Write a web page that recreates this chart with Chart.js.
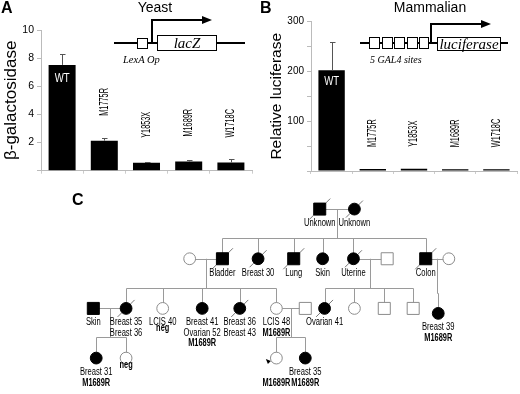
<!DOCTYPE html>
<html lang="en">
<head>
<meta charset="UTF-8">
<title>BRCA1 transactivation and pedigree</title>
<script src="https://cdn.jsdelivr.net/npm/chart.js@4.4.0/dist/chart.umd.min.js"></script>
<style>
  body { margin: 0; background: #fff; }
  #fig { position: relative; width: 520px; height: 394px; overflow: hidden; font-family: Arial, "Liberation Sans", sans-serif; }
  canvas { position: absolute; }
  .t { position: absolute; white-space: nowrap; line-height: 1; color: #000; }
  .letter { font-weight: bold; font-size: 16px; }
  .ttl { font-size: 14px; transform: translateX(-50%); }
  .it { font-family: "Liberation Serif", "Times New Roman", serif; font-style: italic; }
  .ln { position: absolute; background: #000; }
  .box { position: absolute; background: #fff; border: 1px solid #000; box-sizing: border-box;
         display: flex; align-items: center; justify-content: center; }
  .head { position: absolute; width: 0; height: 0; border-top: 4px solid transparent;
          border-bottom: 4px solid transparent; border-left: 10px solid #000; }
</style>
</head>
<body>
<div id="fig">
  <canvas id="chartA" width="260" height="180" style="left:0;top:0"></canvas>
  <canvas id="chartB" width="260" height="180" style="left:260px;top:0"></canvas>
  <canvas id="chartC" width="520" height="214" style="left:0;top:180px"></canvas>

  <div class="t letter" style="left:1px;top:0">A</div>
  <div class="t letter" style="left:260px;top:0">B</div>
  <div class="t letter" style="left:72px;top:192px">C</div>

  <!-- yeast reporter -->
  <div class="t ttl" style="left:155px;top:0">Yeast</div>
  <div class="ln" style="left:114px;top:42px;width:131px;height:2px"></div>
  <div class="box" style="left:137px;top:38px;width:11px;height:11px"></div>
  <div class="box it" style="left:157px;top:35px;width:60px;height:16px;font-size:15px">lacZ</div>
  <div class="ln" style="left:151px;top:19px;width:2px;height:24px"></div>
  <div class="ln" style="left:151px;top:19px;width:52px;height:2px"></div>
  <div class="head" style="left:202px;top:16px"></div>
  <div class="t it" style="left:123px;top:55px;font-size:10.5px">LexA Op</div>

  <!-- mammalian reporter -->
  <div class="t ttl" style="left:430px;top:0">Mammalian</div>
  <div class="ln" style="left:360px;top:42px;width:148px;height:2px"></div>
  <div class="box" style="left:369px;top:37px;width:11px;height:12px"></div>
  <div class="box" style="left:381.5px;top:37px;width:11px;height:12px"></div>
  <div class="box" style="left:394px;top:37px;width:11px;height:12px"></div>
  <div class="box" style="left:406.5px;top:37px;width:11px;height:12px"></div>
  <div class="box" style="left:419px;top:37px;width:10px;height:12px"></div>
  <div class="ln" style="left:430px;top:23px;width:2px;height:20px"></div>
  <div class="ln" style="left:430px;top:23px;width:52px;height:2px"></div>
  <div class="head" style="left:481px;top:20px"></div>
  <div class="box it" style="left:437px;top:37px;width:64px;height:14px;font-size:15px">luciferase</div>
  <div class="t it" style="left:370px;top:55px;font-size:10px">5 GAL4 sites</div>
</div>

<script>
    // panel A / B : reporter activity of the mutants
    const mutants = ['WT', 'M1775R', 'Y1853X', 'M1689R', 'W1718C'];
    const yeastValues = [7.52, 2.13, 0.56, 0.65, 0.58];
    const yeastErrors = [8.26, 2.29, 0.65, 0.74, 0.85];
    const yeastTicks = [2, 4, 6, 8, 10];
    const mammalValues = [202, 4, 4.5, 3.5, 3.5];
    const mammalErrors = [258, null, null, null, null];
    const mammalTicks = [100, 200, 300];

    // panel C : pedigree (x = position in row, gen = generation)
    const pedX = [322, 358, 187, 221, 258, 295, 325, 357, 392, 432, 456,
                  87, 121, 159, 200, 239, 277, 307, 327, 358, 389, 419, 445,
                  90, 121, 277, 307];
    const pedGen = [1, 1, 2, 2, 2, 2, 2, 2, 2, 2, 2,
                    3, 3, 3, 3, 3, 3, 3, 3, 3, 3, 3, 3.1,
                    4, 4, 4, 4];
    const pedSex = ['M', 'F', 'F', 'M', 'F', 'M', 'F', 'F', 'M', 'M', 'F',
                    'M', 'F', 'F', 'F', 'F', 'F', 'M', 'F', 'F', 'M', 'M', 'F',
                    'F', 'F', 'F', 'F'];
    const pedAffected = [1, 1, 0, 1, 1, 1, 1, 1, 0, 1, 0,
                         1, 1, 0, 1, 1, 0, 0, 1, 0, 0, 0, 1,
                         1, 0, 0, 1];
    const pedDeceased = [0, 1, 3, 4, 5, 7, 9, 12, 15, 18];
    const proband = 25;
    const pedNotes = [['Unknown'], ['Unknown'], [], ['Bladder'], ['Breast 30'], ['Lung'], ['Skin'], ['Uterine'], [], ['Colon'], [],
                      ['Skin'], ['Breast 35', 'Breast 36'], ['LCIS 40'], ['Breast 41', 'Ovarian 52'], ['Breast 36', 'Breast 43'],
                      ['LCIS 48'], [], ['Ovarian 41'], [], [], [], ['Breast 39'],
                      ['Breast 31'], [], [''], ['Breast 35']];
    const pedGeno = ['', '', '', '', '', '', '', '', '', '', '',
                     '', '', 'neg', 'M1689R', '', 'M1689R', '', '', '', '', '', 'M1689R',
                     'M1689R', 'neg', 'M1689R', 'M1689R'];
    const couples = [[0, 1], [2, 3], [7, 8], [9, 10], [11, 12], [16, 17]];
    const sibships = [
        { couple: 0, kids: [3, 4, 5, 6, 7, 9] },
        { couple: 1, kids: [12, 13, 14, 15, 16] },
        { couple: 2, kids: [18, 19, 20, 21] },
        { couple: 3, kids: [22] },
        { couple: 4, kids: [23, 24] },
        { couple: 5, kids: [25, 26] }
    ];

    const FONT = 'Arial, "Liberation Sans", sans-serif';
    Chart.defaults.font.family = FONT;
    Chart.defaults.color = '#000';
    Chart.defaults.animation = false;

    // narrow text, like the condensed face of the figure
    function squeezed(ctx, text, x, y, sx, angle) {
        ctx.save();
        ctx.translate(x, y);
        if (angle) ctx.rotate(angle);
        ctx.scale(sx, 1);
        ctx.fillText(text, 0, 0);
        ctx.restore();
    }
    const crisp = v => Math.round(v) + 0.5;

    // error bars + mutant names
    const barMarks = {
        id: 'barMarks',
        afterDatasetsDraw(chart, args, opts) {
            const ctx = chart.ctx;
            const ys = chart.scales.y;
            const bars = chart.getDatasetMeta(0).data;
            ctx.save();
            bars.forEach((bar, i) => {
                const e = opts.err[i];
                if (e != null) {
                    const ye = crisp(ys.getPixelForValue(e));
                    const xc = crisp(bar.x);
                    ctx.strokeStyle = '#555';
                    ctx.lineWidth = 1;
                    ctx.beginPath();
                    ctx.moveTo(xc, bar.y);
                    ctx.lineTo(xc, ye);
                    ctx.moveTo(xc - 2.5, ye);
                    ctx.lineTo(xc + 3, ye);
                    ctx.stroke();
                }
                ctx.textBaseline = 'middle';
                if (i === 0) {
                    ctx.font = '12px ' + FONT;
                    ctx.fillStyle = '#fff';
                    ctx.textAlign = 'center';
                    squeezed(ctx, chart.data.labels[i], bar.x, bar.y + opts.inside, 0.8, 0);
                } else {
                    ctx.font = '12px ' + FONT;
                    ctx.fillStyle = '#000';
                    ctx.textAlign = 'left';
                    squeezed(ctx, chart.data.labels[i], bar.x, bar.y - opts.gap, 0.61, -Math.PI / 2);
                }
            });
            ctx.restore();
        }
    };

    function barChart(id, values, errors, tickList, max, step, title, titleSize, opt) {
        return new Chart(document.getElementById(id), {
            type: 'bar',
            data: {
                labels: mutants,
                datasets: [{ data: values, backgroundColor: '#000', borderWidth: 0,
                             barPercentage: 0.64, categoryPercentage: 1 }]
            },
            options: {
                responsive: false,
                events: [],
                layout: { padding: opt.padding },
                plugins: {
                    legend: { display: false },
                    tooltip: { enabled: false },
                    barMarks: { err: errors, inside: opt.inside, gap: opt.gap }
                },
                scales: {
                    x: {
                        ticks: { display: false },
                        grid: { drawOnChartArea: false, tickLength: 3, color: '#ccc' },
                        border: { color: '#bbb' }
                    },
                    y: {
                        min: 0, max: max,
                        ticks: { stepSize: step, padding: 3, font: { size: opt.tickSize },
                                 callback: v => tickList.includes(v) ? v : '' },
                        grid: { drawOnChartArea: false, tickLength: 4, color: '#bbb' },
                        border: { color: '#bbb' },
                        title: { display: true, text: title, font: { size: titleSize },
                                 padding: { top: opt.titlePad, bottom: 0 } },
                        afterFit: s => { s.width = opt.axisWidth; }
                    }
                }
            },
            plugins: [barMarks]
        });
    }

    barChart('chartA', yeastValues, yeastErrors, yeastTicks, 10, 2, 'β-galactosidase', 17,
        { padding: { left: 0, top: 30, right: 8, bottom: 3 }, axisWidth: 41, titlePad: 1,
          tickSize: 10.5, inside: 14, gap: 25 });
    barChart('chartB', mammalValues, mammalErrors, mammalTicks, 300, 50, 'Relative luciferase', 15.5,
        { padding: { left: 0, top: 21.5, right: 3, bottom: 3 }, axisWidth: 51, titlePad: 7.5,
          tickSize: 10, inside: 11, gap: 22 });

    // pedigree lines, slashes, labels
    const pedigreeMarks = {
        id: 'pedigreeMarks',
        beforeDatasetsDraw(chart) {
            const ctx = chart.ctx, sx = chart.scales.x, sy = chart.scales.y;
            const px = i => sx.getPixelForValue(pedX[i]);
            const py = i => sy.getPixelForValue(pedGen[i]);
            ctx.save();
            ctx.strokeStyle = '#9a9a9a';
            ctx.lineWidth = 1;
            ctx.beginPath();
            couples.forEach(([a, b]) => {
                ctx.moveTo(px(a), crisp(py(a)));
                ctx.lineTo(px(b), crisp(py(b)));
            });
            sibships.forEach(s => {
                const [a, b] = couples[s.couple];
                const mx = crisp((px(a) + px(b)) / 2);
                const kidGen = Math.min(...s.kids.map(k => pedGen[k]));
                const barY = crisp(sy.getPixelForValue(kidGen - 0.42));
                const xs = s.kids.map(k => crisp(px(k)));
                ctx.moveTo(mx, py(a));
                ctx.lineTo(mx, barY);
                ctx.moveTo(Math.min(mx, ...xs), barY);
                ctx.lineTo(Math.max(mx, ...xs), barY);
                s.kids.forEach((k, j) => {
                    ctx.moveTo(xs[j], barY);
                    ctx.lineTo(xs[j], py(k));
                });
            });
            ctx.stroke();
            // deceased slashes, under the symbols
            ctx.strokeStyle = '#777';
            ctx.beginPath();
            pedDeceased.forEach(i => {
                const r = pedSex[i] === 'M' ? 10.5 : 8.5;
                ctx.moveTo(px(i) - r, py(i) + r);
                ctx.lineTo(px(i) + r, py(i) - r);
            });
            ctx.stroke();
            ctx.restore();
        },
        afterDatasetsDraw(chart) {
            const ctx = chart.ctx, sx = chart.scales.x, sy = chart.scales.y;
            const px = i => sx.getPixelForValue(pedX[i]);
            const py = i => sy.getPixelForValue(pedGen[i]);
            ctx.save();
            // proband arrow
            const ax = px(proband) - 5.5, ay = py(proband) + 3;
            ctx.fillStyle = '#000';
            ctx.beginPath();
            ctx.moveTo(ax, ay);
            ctx.lineTo(ax - 5, ay - 2);
            ctx.lineTo(ax - 3, ay + 3);
            ctx.closePath();
            ctx.fill();
            // labels
            ctx.textAlign = 'center';
            ctx.textBaseline = 'alphabetic';
            pedX.forEach((x, i) => {
                let yy = py(i) + 17;
                pedNotes[i].forEach(t => {
                    ctx.font = '10px ' + FONT;
                    squeezed(ctx, t, px(i), yy, 0.76, 0);
                    yy += 10.5;
                });
                const g = pedGeno[i];
                if (g) {
                    if (g === 'neg') yy -= pedNotes[i].length ? 4.5 : 7;
                    ctx.font = 'bold 10px ' + FONT;
                    squeezed(ctx, g, px(i), yy, 0.74, 0);
                }
            });
            ctx.restore();
        }
    };

    new Chart(document.getElementById('chartC'), {
        type: 'scatter',
        data: {
            datasets: [{
                data: pedX.map((x, i) => ({ x: x, y: pedGen[i] })),
                pointStyle: c => pedSex[c.dataIndex] === 'M' ? 'rect' : 'circle',
                pointRadius: c => pedSex[c.dataIndex] === 'M' ? 8.5 : 5.9,
                backgroundColor: c => pedAffected[c.dataIndex] ? '#000' : '#fff',
                borderColor: c => pedAffected[c.dataIndex] ? '#000' : '#8c8c8c',
                borderWidth: 1
            }]
        },
        options: {
            responsive: false,
            events: [],
            layout: { padding: 0 },
            plugins: { legend: { display: false }, tooltip: { enabled: false } },
            scales: {
                x: { type: 'linear', min: 0, max: 520, display: false },
                y: { type: 'linear', min: 0.6055, max: 4.532, reverse: true, display: false }
            }
        },
        plugins: [pedigreeMarks]
    });
</script>
</body>
</html>
